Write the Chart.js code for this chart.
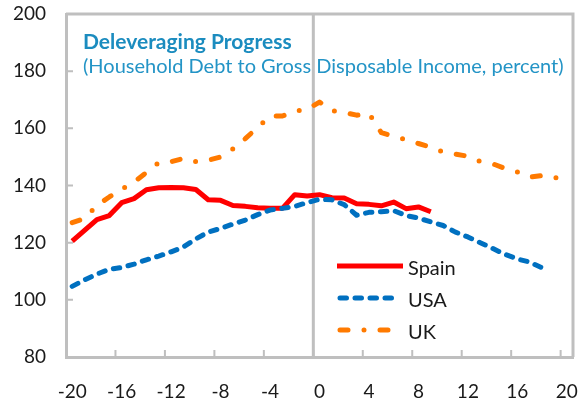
<!DOCTYPE html>
<html lang="en">
<head>
<meta charset="UTF-8">
<title>Deleveraging Progress</title>
<style>
    html, body { margin: 0; padding: 0; background: #fff; }
    #wrap { width: 582px; height: 401px; }
</style>
</head>
<body>
<div id="wrap"><canvas id="myChart" width="582" height="401"></canvas></div>

<script src="https://cdn.jsdelivr.net/npm/chart.js"></script>
<script>
    // quarters relative to the peak (0)
    const quarters = [-20, -19, -18, -17, -16, -15, -14, -13, -12, -11,
                      -10, -9, -8, -7, -6, -5, -4, -3, -2, -1,
                      0, 1, 2, 3, 4, 5, 6, 7, 8, 9,
                      10, 11, 12, 13, 14, 15, 16, 17, 18, 19, 20];

    const spain = [120.5, 124.3, 128.1, 129.5, 134, 135.4, 138.5, 139.2, 139.3, 139.2,
                   138.6, 135, 134.8, 133, 132.7, 132.2, 132, 132, 136.8, 136.3,
                   136.8, 135.7, 135.6, 133.6, 133.4, 132.9, 134.2, 131.9, 132.5, 130.8];

    const usa = [104.7, 107, 109, 110.7, 111.3, 112.5, 114, 115.3, 116.8, 118.5,
                 121.3, 123.7, 125, 126.5, 127.9, 129.8, 131.4, 132, 132.7, 134,
                 135.2, 135, 133.3, 129.6, 130.6, 130.8, 131.2, 129.5, 128.6, 127.3,
                 126, 123.7, 122, 120, 118, 115.9, 114.3, 113.2, 111.2];

    const uk = [127, 128.5, 133, 136, 138.7, 141.2, 144.5, 148, 148.3, 149.5,
                148.4, 148.8, 150, 152.8, 156.4, 160.3, 164.3, 164.3, 166, 166.6,
                169.2, 166.2, 165.6, 164.6, 165.2, 158.5, 157.2, 156, 154.7, 153.4,
                151.7, 151, 150.2, 148.4, 147.6, 146, 144.7, 142.9, 143.5, 142.6, 143.8];

    const seriesNames = ["Spain", "USA", "UK"];
    const titleText = "Deleveraging Progress";
    const subtitleText = "(Household Debt to Gross Disposable Income, percent)";

    const FONT = "Lato";
    const GREY = "#BFBFBF";
    const colors = ["#FF0000", "#0070C0", "#FF7A00"];
    const dashes = [[], [6.5, 8.5], [8, 16, 0, 16]];

    // frame, zero line and inside tick marks (under the lines)
    const framePlugin = {
        id: "frame",
        beforeDatasetsDraw(chart) {
            const { ctx, chartArea: a, scales: { x, y } } = chart;
            const half = (x.getPixelForValue(1) - x.getPixelForValue(0)) / 2;
            ctx.save();
            ctx.strokeStyle = GREY;
            ctx.lineWidth = 3;
            ctx.beginPath();
            ctx.moveTo(a.left, a.top);
            ctx.lineTo(a.right, a.top);
            ctx.lineTo(a.right, a.bottom);
            ctx.stroke();

            const zx = x.getPixelForValue(quarters.indexOf(0)) - half;
            ctx.beginPath();
            ctx.moveTo(zx, a.top);
            ctx.lineTo(zx, a.bottom);
            ctx.stroke();

            ctx.lineWidth = 2;
            ctx.beginPath();
            quarters.forEach((q, i) => {
                if (q % 4 === 0 && i > 0) {
                    const px = x.getPixelForValue(i) - half;
                    ctx.moveTo(px, a.bottom);
                    ctx.lineTo(px, a.bottom - 7);
                }
            });
            y.ticks.forEach(t => {
                if (t.value > y.min && t.value < y.max) {
                    const py = y.getPixelForValue(t.value);
                    ctx.moveTo(a.left, py);
                    ctx.lineTo(a.left + 7, py);
                }
            });
            ctx.stroke();
            ctx.restore();
        },
        afterDraw(chart) {
            const ctx = chart.ctx;
            ctx.save();
            // title block inside the plot
            ctx.textAlign = "left";
            ctx.textBaseline = "alphabetic";
            ctx.fillStyle = "#1B8CBF";
            ctx.font = "bold 21px " + FONT;
            ctx.fillText(titleText, 83, 49);
            ctx.fillStyle = "#2394C6";
            ctx.font = "20px " + FONT;
            ctx.fillText(subtitleText, 83, 73);

            // legend
            const rows = [266, 298, 330];
            seriesNames.forEach((name, i) => {
                ctx.strokeStyle = colors[i];
                ctx.lineWidth = 5;
                ctx.lineCap = i === 0 ? "butt" : "round";
                ctx.setLineDash(dashes[i]);
                ctx.beginPath();
                ctx.moveTo(i === 0 ? 337 : 340, rows[i]);
                ctx.lineTo(i === 0 ? 403 : 400, rows[i]);
                ctx.stroke();
                ctx.setLineDash([]);
                ctx.fillStyle = "#1a1a1a";
                ctx.font = "20px " + FONT;
                ctx.fillText(name, 408, rows[i] + 9);
            });
            ctx.restore();
        }
    };

    const ctx = document.getElementById("myChart");

    new Chart(ctx, {
        type: "line",
        data: {
            labels: quarters,
            datasets: [
                { label: seriesNames[0], data: spain, order: 3 },
                { label: seriesNames[1], data: usa, order: 2 },
                { label: seriesNames[2], data: uk, order: 1 }
            ].map((d, i) => Object.assign(d, {
                borderColor: colors[i],
                backgroundColor: colors[i],
                borderWidth: 5,
                borderDash: dashes[i],
                borderCapStyle: i === 0 ? "butt" : "round",
                borderJoinStyle: "round",
                pointRadius: 0,
                tension: 0,
                fill: false
            }))
        },
        options: {
            responsive: false,
            animation: false,
            devicePixelRatio: 1,
            layout: { padding: { top: 14, right: 9, left: 0, bottom: 0 } },
            plugins: {
                legend: { display: false },
                tooltip: { enabled: false }
            },
            scales: {
                x: {
                    type: "category",
                    offset: true,
                    grid: { display: false, drawTicks: false },
                    border: { color: GREY, width: 3 },
                    ticks: {
                        autoSkip: false,
                        maxRotation: 0,
                        minRotation: 0,
                        padding: 23,
                        color: "#1a1a1a",
                        font: { family: FONT, size: 19 },
                        callback: (v, i) => quarters[i] % 4 === 0 ? String(quarters[i]) : ""
                    },
                    afterFit: s => {
                        s.height = 44;
                        s.paddingLeft = 0;
                        s.paddingRight = 0;
                    }
                },
                y: {
                    min: 80,
                    max: 200,
                    grid: { display: false, drawTicks: false },
                    border: { color: GREY, width: 3 },
                    ticks: {
                        stepSize: 20,
                        padding: 20,
                        color: "#1a1a1a",
                        font: { family: FONT, size: 19 }
                    },
                    afterFit: s => {
                        s.width = 66;
                        s.paddingTop = 0;
                        s.paddingBottom = 0;
                    }
                }
            }
        },
        plugins: [framePlugin]
    });
</script>
</body>
</html>
